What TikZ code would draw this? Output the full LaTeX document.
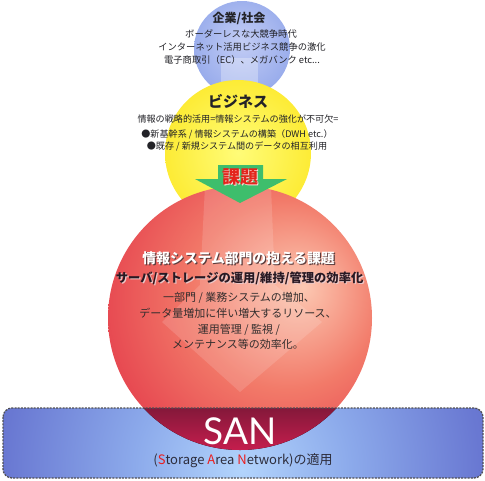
\documentclass[tikz,border=0pt]{standalone}
\usepackage{fontspec}
\newfontfamily\jp{Noto Sans CJK JP}
\newfontfamily\sanfont{Lato}
\definecolor{bl0}{RGB}{195,205,245}
\definecolor{bl1}{RGB}{150,170,235}
\definecolor{bl2}{RGB}{112,132,218}
\definecolor{ye0}{RGB}{255,252,120}
\definecolor{ye1}{RGB}{252,232,40}
\definecolor{ye2}{RGB}{238,198,22}
\definecolor{rd0}{RGB}{252,200,178}
\definecolor{rd1}{RGB}{242,122,105}
\definecolor{rd2}{RGB}{228,60,75}
\definecolor{rd3}{RGB}{212,20,62}
\definecolor{sa0}{RGB}{178,212,252}
\definecolor{sa1}{RGB}{140,170,235}
\definecolor{sa2}{RGB}{105,120,210}
\definecolor{sa3}{RGB}{90,94,188}
\definecolor{arrowgreen}{RGB}{62,190,108}
\definecolor{kadaired}{RGB}{228,36,28}
\definecolor{txt}{RGB}{35,35,40}
\definecolor{bodytxt}{RGB}{50,45,45}
\definecolor{sanred}{RGB}{235,30,30}
\pgfdeclareradialshading{blueball}{\pgfpoint{0bp}{4bp}}{color(0bp)=(bl0); color(28bp)=(bl1); color(50bp)=(bl2)}
\pgfdeclareradialshading{yellowball}{\pgfpoint{0bp}{0bp}}{color(0bp)=(ye0); color(30bp)=(ye1); color(50bp)=(ye2)}
\pgfdeclareradialshading{redball}{\pgfpoint{12bp}{6bp}}{color(0bp)=(rd0); color(18bp)=(rd1); color(36bp)=(rd2); color(55bp)=(rd3); color(70bp)=(rd3)}
\pgfdeclareradialshading{sanball}{\pgfpoint{0bp}{0bp}}{color(0bp)=(sa0); color(10bp)=(sa1); color(22bp)=(sa2); color(34bp)=(sa3); color(75bp)=(sa3)}
\tikzset{
  txtnode/.style={inner sep=0pt, anchor=center, text=txt},
  small/.style={txtnode, font=\jp\fontsize{9.3}{11}\selectfont},
  body/.style={txtnode, text=bodytxt, font=\jp\fontsize{11}{13}\selectfont},
}
\begin{document}
\begin{tikzpicture}[x=1pt,y=-1pt]
\useasboundingbox (0,0) rectangle (485,480);
% blue ball
\path[shading=blueball] (242,49) circle (48);
\begin{scope}
  \clip (242,49) circle (48);
  \fill[white, opacity=0.3] (221,58) -- (258,58) -- (258,100) -- (221,100) -- cycle;
\end{scope}
% yellow ball
\path[shading=yellowball] (238,153) circle (73);
% red ball
\path[shading=redball] (240,318) circle (132);
\begin{scope}
  \clip (240,318) circle (132);
  \fill[white, opacity=0.14] (205,186) -- (271,186) -- (275,285) -- (322,322) -- (240,392) -- (162,322) -- (200,285) -- cycle;
\end{scope}
% green arrow
\fill[arrowgreen] (218,165) -- (263,165) -- (263,179) -- (287,179) -- (240,203) -- (195,179) -- (218,179) -- cycle;
\node[txtnode, text=white!85!red, font=\jp\bfseries\fontsize{18}{20}\selectfont] at (241.5,178) {課題};
\node[txtnode, text=kadaired, font=\jp\bfseries\fontsize{18}{20}\selectfont] (kadai) at (240,177) {課題};
% SAN box
\begin{scope}
  \clip[rounded corners=9] (3,408) rectangle (483,478);
  \path[shading=sanball] (242,470) circle (270);
\end{scope}
\begin{scope}
  \clip[rounded corners=9] (3,408) rectangle (483,478);
  \clip (240,318) circle (132);
  \fill[top color={rgb,255:red,132;green,24;blue,58}, bottom color={rgb,255:red,200;green,30;blue,78}] (0,408) rectangle (485,452);
\end{scope}
\draw[rounded corners=9, draw={rgb,255:red,80;green,80;blue,85}, line width=1.3pt, dash pattern=on 2pt off 1.2pt] (3,408) rectangle (483,478);
% texts: company
\node[txtnode, font=\jp\bfseries\fontsize{12}{14}\selectfont] (corp) at (239,18) {企業/社会};
\node[small] (c1) at (241,34) {ボーダーレスな大競争時代};
\node[small] (c2) at (242,47) {インターネット活用ビジネス競争の激化};
\node[small] (c3) at (242,59.5) {電子商取引（EC）、メガバンク etc...};
% business
\node[txtnode, font=\jp\bfseries\fontsize{15}{17}\selectfont] (biz) at (238,101) {ビジネス};
\node[small, font=\jp\fontsize{9.1}{11}\selectfont] (b1) at (238,119) {情報の戦略的活用=情報システムの強化が不可欠=};
\node[small, font=\jp\fontsize{9.1}{11}\selectfont] (b2) at (237,134) {●新基幹系 / 情報システムの構築（DWH etc.）};
\node[small, font=\jp\fontsize{9.1}{11}\selectfont] (b3) at (237,146) {●既存 / 新規システム間のデータの相互利用};
% red ball texts
\node[txtnode, text={rgb,255:red,90;green,60;blue,60}, font=\jp\bfseries\fontsize{13.8}{16}\selectfont] at (239.8,259) {情報システム部門の抱える課題};
\node[txtnode, text=white, font=\jp\bfseries\fontsize{13.8}{16}\selectfont] (r0) at (238.6,257.8) {情報システム部門の抱える課題};
\node[txtnode, text={rgb,255:red,235;green,200;blue,200}, font=\jp\bfseries\fontsize{12.3}{14}\selectfont] at (240.8,279) {サーバ/ストレージの運用/維持/管理の効率化};
\node[txtnode, text={rgb,255:red,40;green,25;blue,35}, font=\jp\bfseries\fontsize{12.3}{14}\selectfont] (r1) at (239.6,278) {サーバ/ストレージの運用/維持/管理の効率化};
\node[body] (r2) at (239,297.5) {一部門 / 業務システムの増加、};
\node[body] (r3) at (238,313.5) {データ量増加に伴い増大するリソース、};
\node[body] (r4) at (239,329.5) {運用管理 / 監視 /};
\node[body] (r5) at (238,344) {メンテナンス等の効率化。};
% SAN texts
\node[txtnode, text=white, font=\sanfont\fontsize{37}{40}\selectfont] (san) at (240,431) {SAN};
\node[txtnode, text={rgb,255:red,45;green,45;blue,60}, font=\jp\fontsize{13}{15}\selectfont] (sanfull) at (243,461) {(\textcolor{sanred}{S}torage \textcolor{sanred}{A}rea \textcolor{sanred}{N}etwork)の適用};
\end{tikzpicture}
\end{document}
